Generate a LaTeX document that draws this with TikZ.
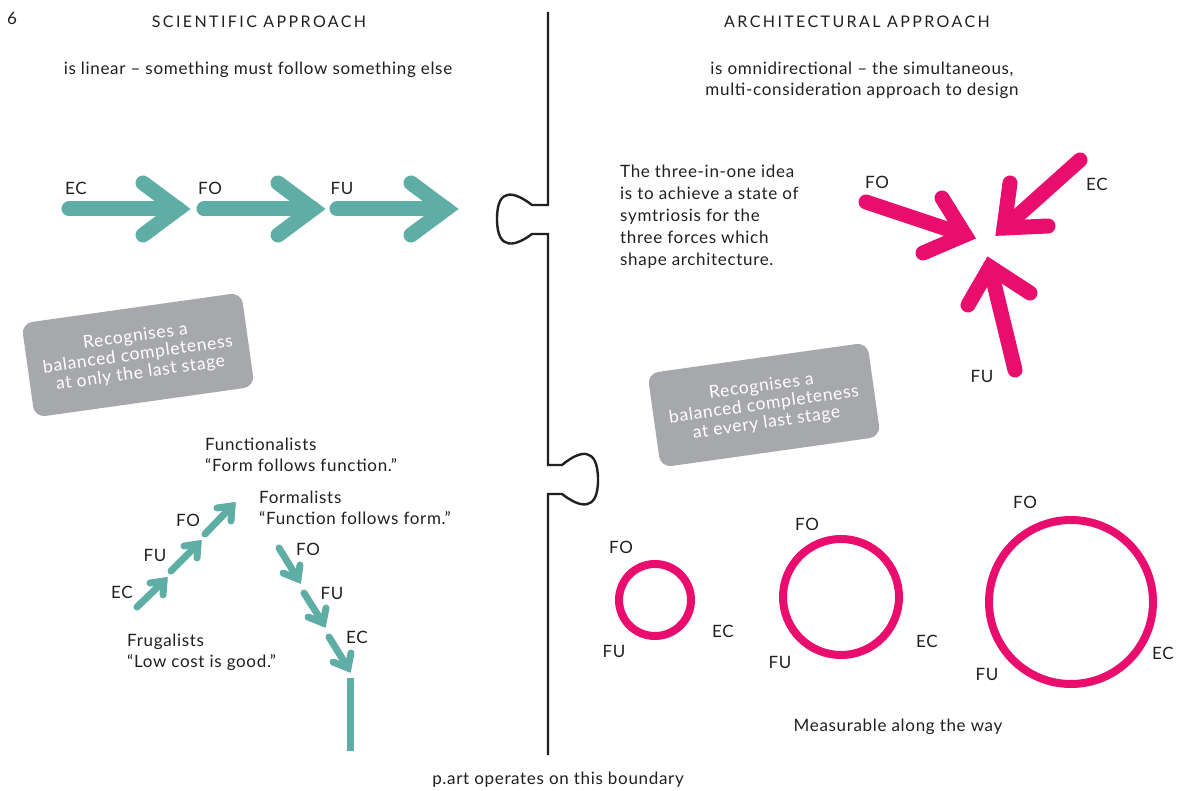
\documentclass[tikz,border=0pt]{standalone}
\usepackage{fontspec}
\setmainfont{Lato}[LetterSpace=4]
\definecolor{tealc}{HTML}{5FAEA6}
\definecolor{pinkc}{HTML}{E90E6E}
\definecolor{greyc}{HTML}{A7A8AB}
\definecolor{inkc}{HTML}{231F20}
\begin{document}
\begin{tikzpicture}[x=1pt,y=-1pt,
  txt/.style={text=inkc,font=\fontsize{17}{21}\selectfont,inner sep=0pt},
  lbl/.style={text=inkc,font=\fontsize{17}{19}\selectfont,inner sep=0pt},
  hdr/.style={text=inkc,font=\fontsize{16}{18}\selectfont\addfontfeatures{LetterSpace=15},inner sep=0pt},
  bigteal/.style={draw=tealc,line width=15pt,line cap=round,line join=miter},
  smallteal/.style={draw=tealc,line width=7pt,line cap=round,line join=miter},
  pinkarrow/.style={draw=pinkc,line width=15pt,line cap=round,line join=miter},
  ring/.style={draw=pinkc,line width=8pt},
  greybox/.style={fill=greyc,rounded corners=11pt,minimum width=222pt,minimum height=95pt,
     align=center,text=white,font=\fontsize{17.5}{18.5}\selectfont,inner sep=0pt},
  boundary/.style={draw=inkc,line width=2.4pt,line join=miter}
]
\useasboundingbox (0,0) rectangle (1183,791);
\fill[white] (0,0) rectangle (1183,791);

% headings
\node[lbl] (pg) at (12,18) {6};
\node[hdr] (h1) at (259,22) {SCIENTIFIC APPROACH};
\node[hdr] (h2) at (857,22) {ARCHITECTURAL APPROACH};
\node[txt] (t1) at (258,70) {is linear – something must follow something else};
\node[txt,align=center] (t2) at (862,80) {is omnidirectional – the simultaneous,\\multi-consideration approach to design};

% boundary
\coordinate (bTop) at (548,12);
\coordinate (bBot) at (548,755);
\draw[boundary] (bTop) -- (548,205) -- (532,205)
  .. controls (515,192) and (497,186) .. (497,219)
  .. controls (497,252) and (516,246) .. (532,234)
  -- (548,234) -- (548,465) -- (562,465)
  .. controls (580,450) and (598,446) .. (598,480)
  .. controls (598,512) and (580,508) .. (562,494)
  -- (548,494) -- (bBot);
\node[txt] (pb) at (558,780) {p.art operates on this boundary};

% linear teal arrows
\coordinate (s1) at (69,209); \coordinate (v1) at (178,209);
\coordinate (s2) at (204,209); \coordinate (v2) at (313,209);
\coordinate (s3) at (337,209); \coordinate (v3) at (446,209);
\draw[bigteal] (s1) -- (v1);
\draw[bigteal] (143,183) -- (v1) -- (143,235);
\draw[bigteal] (s2) -- (v2);
\draw[bigteal] (278,183) -- (v2) -- (278,235);
\draw[bigteal] (s3) -- (v3);
\draw[bigteal] (411,183) -- (v3) -- (411,235);
\node[lbl] (lEC) at (76,188) {EC};
\node[lbl] (lFO) at (210,188) {FO};
\node[lbl] (lFU) at (342,188) {FU};

% grey boxes
\node[greybox,rotate=8] (g1) at (138,355) {Recognises a\\balanced completeness\\at only the last stage};
\node[greybox,rotate=8] (g2) at (764,405) {Recognises a\\balanced completeness\\at every last stage};

% text block right
\node[txt,anchor=north west,align=left,font=\fontsize{17}{22}\selectfont] (tb) at (620,165)
  {The three-in-one idea\\is to achieve a state of\\symtriosis for the\\three forces which\\shape architecture.};

% pink arrows
\coordinate (pS1) at (866,202); \coordinate (pV1) at (965,235);
\draw[pinkarrow] (pS1) -- (pV1);
\draw[pinkarrow] (942,198) -- (pV1) -- (923,253);
\coordinate (pS2) at (1080,160); \coordinate (pV2) at (1004,228);
\draw[pinkarrow] (pS2) -- (pV2);
\draw[pinkarrow] (1010,183) -- (pV2) -- (1048,226);
\coordinate (pS3) at (1015,370); \coordinate (pV3) at (990,267);
\draw[pinkarrow] (pS3) -- (pV3);
\draw[pinkarrow] (968,305) -- (pV3) -- (1030,293);
\node[lbl] (pFO) at (877,182) {FO};
\node[lbl] (pEC) at (1097,184) {EC};
\node[lbl] (pFU) at (982,376) {FU};

% bottom-left texts
\node[txt,anchor=west,align=left] (fn) at (205,455) {Functionalists\\“Form follows function.”};
\node[txt,anchor=west,align=left] (fm) at (259,508) {Formalists\\“Function follows form.”};
\node[txt,anchor=west,align=left] (fg) at (127,652) {Frugalists\\“Low cost is good.”};

% up arrows
\coordinate (u1s) at (137,607); \coordinate (u1v) at (164,581);
\draw[smallteal] (u1s) -- (u1v); \draw[smallteal] (150,583) -- (u1v) -- (163,595);
\coordinate (u2s) at (171,571); \coordinate (u2v) at (198,544);
\draw[smallteal] (u2s) -- (u2v); \draw[smallteal] (184,546) -- (u2v) -- (197,558);
\coordinate (u3s) at (205,534); \coordinate (u3v) at (232,506);
\draw[smallteal] (u3s) -- (u3v); \draw[smallteal] (217,508) -- (u3v) -- (231,521);
\node[lbl] (uEC) at (122,592) {EC};
\node[lbl] (uFU) at (155,555) {FU};
\node[lbl] (uFO) at (188,520) {FO};

% down arrows
\coordinate (d1s) at (279,548); \coordinate (d1v) at (298,579);
\draw[smallteal] (d1s) -- (d1v); \draw[smallteal] (283,573) -- (d1v) -- (300,565);
\coordinate (d2s) at (304,593); \coordinate (d2v) at (323,623);
\draw[smallteal] (d2s) -- (d2v); \draw[smallteal] (308,617) -- (d2v) -- (326,608);
\coordinate (d3s) at (329,637); \coordinate (d3v) at (348,668);
\draw[smallteal] (d3s) -- (d3v); \draw[smallteal] (333,662) -- (d3v) -- (351,653);
\coordinate (vl1) at (350,678); \coordinate (vl2) at (350,751);
\draw[draw=tealc,line width=7pt] (vl1) -- (vl2);
\node[lbl] (dFO) at (308,549) {FO};
\node[lbl] (dFU) at (332,593) {FU};
\node[lbl] (dEC) at (357,637) {EC};

% circles
\node[ring,circle,minimum size=72pt,inner sep=0pt] (c1) at (655,600) {};
\node[ring,circle,minimum size=116pt,inner sep=0pt] (c2) at (841,597) {};
\node[ring,circle,minimum size=164pt,inner sep=0pt] (c3) at (1071,602) {};
\node[lbl] (c1FO) at (621,547) {FO};
\node[lbl] (c1EC) at (723,631) {EC};
\node[lbl] (c1FU) at (614,651) {FU};
\node[lbl] (c2FO) at (807,524) {FO};
\node[lbl] (c2EC) at (927,641) {EC};
\node[lbl] (c2FU) at (780,662) {FU};
\node[lbl] (c3FO) at (1025,502) {FO};
\node[lbl] (c3EC) at (1163,653) {EC};
\node[lbl] (c3FU) at (987,674) {FU};
\node[txt] (meas) at (898,727) {Measurable along the way};
\end{tikzpicture}
\end{document}
